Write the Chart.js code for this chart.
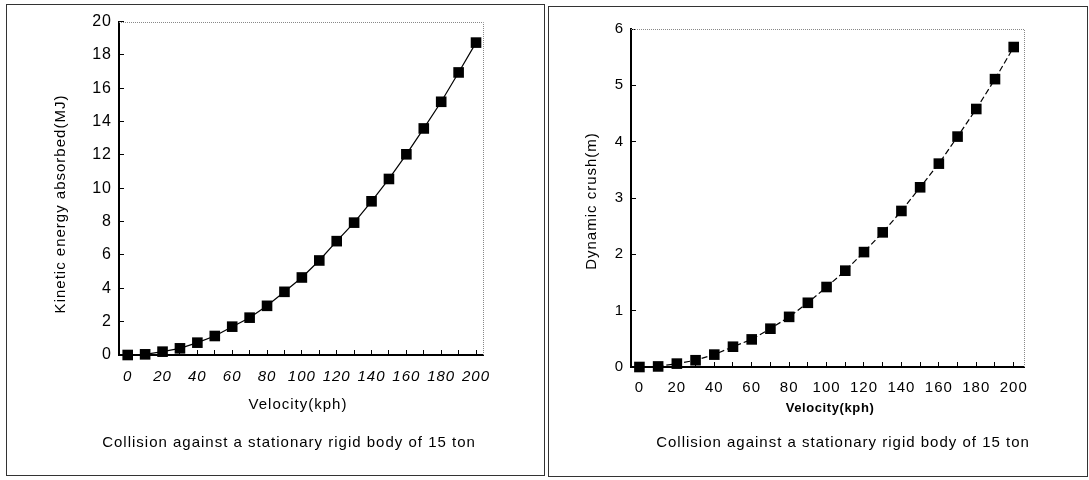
<!DOCTYPE html>
<html><head><meta charset="utf-8">
<script src="https://cdn.jsdelivr.net/npm/chart.js@4.4.1/dist/chart.umd.min.js"></script>
<style>
html,body{margin:0;padding:0;background:#fff;}
#wrap{position:relative;width:1089px;height:480px;overflow:hidden;background:#fff;}
.frame{position:absolute;border:1px solid #333;box-sizing:border-box;}
#fa{left:6px;top:4px;width:539px;height:472px;}
#fb{left:548px;top:6px;width:540px;height:471px;}
canvas{position:absolute;top:0;}
#ca{left:0;}
#cb{left:545px;}
</style>
</head><body>
<div id="wrap">
  <div class="frame" id="fa"></div>
  <div class="frame" id="fb"></div>
  <canvas id="ca" width="545" height="480"></canvas>
  <canvas id="cb" width="544" height="480"></canvas>
</div>
<script>
// ---- data ----
const velocity = [0,10,20,30,40,50,60,70,80,90,100,110,120,130,140,150,160,170,180,190,200];
const kineticEnergyMJ = [0,0.04,0.2,0.4,0.74,1.14,1.7,2.24,2.95,3.79,4.65,5.67,6.83,7.94,9.22,10.56,12.04,13.59,15.19,16.95,18.74];
const dynamicCrushM = [0,0.01,0.06,0.12,0.22,0.36,0.49,0.68,0.89,1.14,1.42,1.71,2.04,2.39,2.77,3.19,3.61,4.09,4.58,5.11,5.68];
const xTickLabels = ['0','20','40','60','80','100','120','140','160','180','200'];
const yTicksEnergy = [0,2,4,6,8,10,12,14,16,18,20];
const yTicksCrush = [0,1,2,3,4,5,6];

const INK = '#000';
const FONT = '"Liberation Sans", Arial, Helvetica, sans-serif';

const decor = {
  id: 'decor',
  beforeDraw(chart) {
    chart.ctx.letterSpacing = '1px';
  },
  beforeDatasetsDraw(chart) {
    const {ctx, chartArea: a} = chart;
    ctx.save();
    ctx.strokeStyle = '#888';
    ctx.lineWidth = 1;
    ctx.setLineDash([1, 1]);
    ctx.beginPath();
    ctx.moveTo(a.left, Math.round(a.top) + 0.5);
    ctx.lineTo(Math.round(a.right) + 0.5, Math.round(a.top) + 0.5);
    ctx.lineTo(Math.round(a.right) + 0.5, a.bottom);
    ctx.stroke();
    ctx.restore();
  },
  afterDraw(chart, args, opts) {
    const ctx = chart.ctx;
    (opts.texts || []).forEach(t => {
      ctx.save();
      ctx.font = t.font;
      ctx.fillStyle = INK;
      ctx.textAlign = 'center';
      ctx.textBaseline = 'middle';
      ctx.letterSpacing = t.spacing || '0px';
      ctx.translate(t.x, t.y);
      if (t.rot) ctx.rotate(t.rot);
      ctx.fillText(t.text, 0, 0);
      ctx.restore();
    });
  }
};

function makeChart(id, values, cfg) {
  const pts = velocity.map((v, i) => ({x: v, y: values[i]}));
  return new Chart(document.getElementById(id), {
    type: 'line',
    data: {
      datasets: [{
        data: pts,
        borderColor: INK,
        borderWidth: cfg.lineWidth,
        borderDash: cfg.dash,
        backgroundColor: INK,
        pointStyle: 'rect',
        pointRadius: 7.5,
        pointBackgroundColor: INK,
        pointBorderColor: INK,
        pointBorderWidth: 0,
        tension: 0,
        fill: false,
        clip: false
      }]
    },
    options: {
      responsive: false,
      animation: false,
      events: [],
      layout: {padding: cfg.padding},
      plugins: {
        legend: {display: false},
        tooltip: {enabled: false},
        decor: {texts: cfg.texts}
      },
      scales: {
        x: {
          type: 'linear',
          min: cfg.xMin, max: cfg.xMax,
          afterBuildTicks: s => { s.ticks = velocity.map(v => ({value: v})); },
          afterFit: s => { s.height = cfg.xHeight; },
          grid: {display: true, drawOnChartArea: false, drawTicks: true, tickLength: -5, color: INK, lineWidth: 1},
          border: {display: true, color: INK, width: 2},
          ticks: {
            padding: cfg.xPad,
            maxRotation: 0,
            autoSkip: false,
            color: INK,
            font: cfg.xFont,
            callback: v => xTickLabels.includes(String(v)) ? String(v) : ''
          },
          title: {display: false}
        },
        y: {
          type: 'linear',
          min: cfg.yTicks[0], max: cfg.yTicks[cfg.yTicks.length - 1],
          afterBuildTicks: s => { s.ticks = cfg.yTicks.map(v => ({value: v})); },
          afterFit: s => { s.width = cfg.yWidth; },
          grid: {display: true, drawOnChartArea: false, drawTicks: true, tickLength: -5, color: INK, lineWidth: 1},
          border: {display: true, color: INK, width: 2},
          ticks: {padding: 12, color: INK, font: cfg.yFont, autoSkip: false, callback: v => String(v)},
          title: {display: false}
        }
      }
    },
    plugins: [decor]
  });
}

makeChart('ca', kineticEnergyMJ, {
  lineWidth: 1.2, dash: [],
  padding: {left: 0, top: 21, right: 62, bottom: 0},
  xMin: -5, xMax: 204, xHeight: 125, yWidth: 119, xPad: 18,
  yTicks: yTicksEnergy,
  xFont: {family: FONT, size: 15, style: 'italic'},
  yFont: {family: FONT, size: 16},
  texts: [
    {text: 'Kinetic energy absorbed(MJ)', x: 61, y: 204, rot: -Math.PI / 2, font: '15px ' + FONT, spacing: '1px'},
    {text: 'Velocity(kph)', x: 298, y: 405, font: '15px ' + FONT, spacing: '1px'},
    {text: 'Collision against a stationary rigid body of 15 ton', x: 289, y: 443, font: '15px ' + FONT, spacing: '1px'}
  ]
});

makeChart('cb', dynamicCrushM, {
  lineWidth: 1.2, dash: [6, 3],
  padding: {left: 0, top: 29, right: 65, bottom: 0},
  xMin: -4.5, xMax: 205.5, xHeight: 113, yWidth: 86, xPad: 17,
  yTicks: yTicksCrush,
  xFont: {family: FONT, size: 15},
  yFont: {family: FONT, size: 15},
  texts: [
    {text: 'Dynamic crush(m)', x: 47, y: 201, rot: -Math.PI / 2, font: '15px ' + FONT, spacing: '1px'},
    {text: 'Velocity(kph)', x: 285, y: 408, font: 'bold 13px ' + FONT, spacing: '0.6px'},
    {text: 'Collision against a stationary rigid body of 15 ton', x: 298, y: 443, font: '15px ' + FONT, spacing: '1px'}
  ]
});
</script>
</body></html>
